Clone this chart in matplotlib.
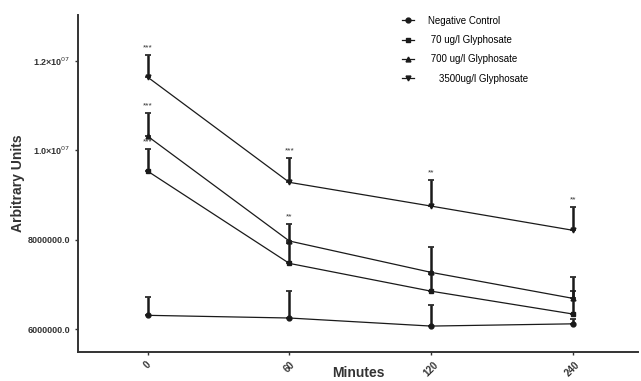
import numpy as np
import matplotlib
matplotlib.use('Agg')
import matplotlib.pyplot as plt
from matplotlib import rcParams

rcParams['font.family'] = 'sans-serif'
rcParams['font.sans-serif'] = ['Liberation Sans', 'DejaVu Sans']
rcParams['font.size'] = 7

# data
minutes = ['0', '60', '120', '240']
series_names = ['Negative Control', ' 70 ug/l Glyphosate',
                ' 700 ug/l Glyphosate', '    3500ug/l Glyphosate']
neg_ctrl = [6.31e6, 6.25e6, 6.07e6, 6.12e6]
neg_ctrl_err = [0.41e6, 0.60e6, 0.47e6, 0.10e6]
gly_70 = [9.53e6, 7.47e6, 6.85e6, 6.34e6]
gly_70_err = [0.49e6, 0.45e6, 0.38e6, 0.52e6]
gly_700 = [1.031e7, 7.97e6, 7.27e6, 6.69e6]
gly_700_err = [0.52e6, 0.38e6, 0.56e6, 0.47e6]
gly_3500 = [1.163e7, 9.28e6, 8.75e6, 8.21e6]
gly_3500_err = [0.49e6, 0.54e6, 0.58e6, 0.52e6]

# significance stars: (series index, time index, label)
stars = [(3, 0, '***'), (2, 0, '***'), (1, 0, '***'), (3, 1, '***'),
         (2, 1, '**'), (3, 2, '**'), (3, 3, '**')]

yticks = [6e6, 8e6, 1.0e7, 1.2e7]
ytick_labels = ['6000000.0', '8000000.0', '1.0\u00d710$^{07}$',
                '1.2\u00d710$^{07}$']

means = [neg_ctrl, gly_70, gly_700, gly_3500]
errs = [neg_ctrl_err, gly_70_err, gly_700_err, gly_3500_err]
markers = ['o', 's', '^', 'v']

fig = plt.figure(figsize=(6.41, 3.81), dpi=100)
ax = fig.add_axes([0.122, 0.076, 0.873, 0.885])

x = np.arange(len(minutes))
for m, e, mk, name in zip(means, errs, markers, series_names):
    m = np.array(m)
    e = np.array(e)
    ax.errorbar(x, m, yerr=[np.zeros_like(e), e], fmt='none',
                ecolor='#1a1a1a', elinewidth=1.8, capsize=2.5, capthick=1.2)
    ax.plot(x, m, color='#1a1a1a', linewidth=0.9, marker=mk,
            markersize=3.5, label=name)

for si, ti, lab in stars:
    top = means[si][ti] + errs[si][ti]
    ax.text(x[ti], top + 0.08e6, lab, ha='center', va='bottom',
            fontsize=6, color='#333333')

ax.set_xlim(-0.49, 3.46)
ax.set_ylim(5.49e6, 1.302e7)
ax.set_xticks(x)
ax.set_xticklabels(minutes, rotation=45, fontsize=7, fontweight='bold',
                   color='#333333')
ax.set_yticks(yticks)
ax.set_yticklabels(ytick_labels, fontsize=6.5, fontweight='bold',
                   color='#333333')
ax.tick_params(axis='both', length=2, width=1, color='#333333')

for s in ['top', 'right']:
    ax.spines[s].set_visible(False)
for s in ['left', 'bottom']:
    ax.spines[s].set_linewidth(1.4)
    ax.spines[s].set_color('#333333')

ax.set_ylabel('Arbitrary Units', fontsize=10, fontweight='bold',
              color='#333333', labelpad=2)
ax.set_xlabel('Minutes', fontsize=10, fontweight='bold', color='#333333',
              labelpad=-9)

legend = ax.legend(loc='upper left', bbox_to_anchor=(0.563, 1.023),
                   frameon=False, fontsize=7, handlelength=1.2,
                   labelspacing=0.95, handletextpad=1.5)

plt.savefig('out.png', dpi=100)
